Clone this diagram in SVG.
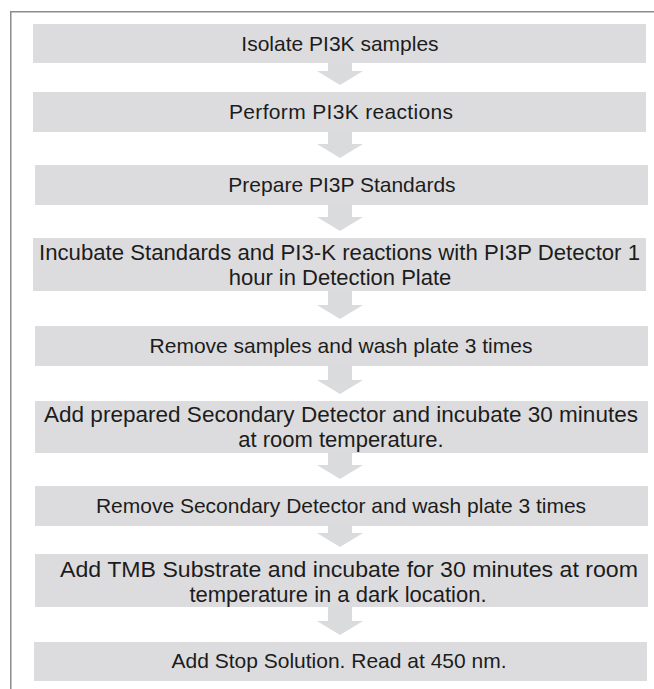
<svg xmlns="http://www.w3.org/2000/svg" width="654" height="689" viewBox="0 0 654 689">
<style>
.box{fill:#dcdcde}
.arr{fill:#dadbdd}
.t{font-family:"Liberation Sans",Arial,sans-serif;font-size:21px;fill:#1c1c1c;text-anchor:middle}
.t2{font-family:"Liberation Sans",Arial,sans-serif;font-size:22px;fill:#1c1c1c}
.frame{fill:none;stroke:#8c8c8c;stroke-width:1.5}
</style>
<rect width="654" height="689" fill="#ffffff"/>
<path class="frame" d="M10.75,689 V11.75 H654"/>
<g id="connectors">
<path class="arr" d="M328,63 H352 V71 H363 L340,85 L317,71 H328 Z"/>
<path class="arr" d="M328,132 H352 V144 H363 L340,158 L317,144 H328 Z"/>
<path class="arr" d="M328,205 H352 V217 H363 L340,231 L317,217 H328 Z"/>
<path class="arr" d="M328,291 H352 V305 H363 L340,319 L317,305 H328 Z"/>
<path class="arr" d="M328,366 H352 V380 H363 L340,394 L317,380 H328 Z"/>
<path class="arr" d="M328,453 H352 V465 H363 L340,479 L317,465 H328 Z"/>
<path class="arr" d="M328,526 H352 V533 H363 L340,547 L317,533 H328 Z"/>
<path class="arr" d="M328,607 H352 V621 H363 L340,635 L317,621 H328 Z"/>
</g>
<g id="n1"><rect class="box" x="33" y="24" width="613" height="39"/><text class="t" x="340" y="50.5">Isolate PI3K samples</text></g>
<g id="n2"><rect class="box" x="33" y="92" width="613" height="40"/><text class="t" x="341" y="118.5" textLength="224">Perform PI3K reactions</text></g>
<g id="n3"><rect class="box" x="35" y="165" width="613" height="40"/><text class="t" x="342" y="191.5">Prepare PI3P Standards</text></g>
<g id="n4"><rect class="box" x="33" y="238" width="613" height="53"/><text class="t2" x="39" y="259.5" textLength="601" lengthAdjust="spacingAndGlyphs">Incubate Standards and PI3-K reactions with PI3P Detector 1</text><text class="t2" x="340" y="284.5" text-anchor="middle">hour in Detection Plate</text></g>
<g id="n5"><rect class="box" x="35" y="326" width="613" height="40"/><text class="t" x="341" y="352.5">Remove samples and wash plate 3 times</text></g>
<g id="n6"><rect class="box" x="35" y="401" width="613" height="52"/><text class="t2" x="44" y="422" textLength="594" lengthAdjust="spacingAndGlyphs">Add prepared Secondary Detector and incubate 30 minutes</text><text class="t2" x="341" y="447" text-anchor="middle">at room temperature.</text></g>
<g id="n7"><rect class="box" x="35" y="486" width="613" height="40"/><text class="t" x="341" y="512.5">Remove Secondary Detector and wash plate 3 times</text></g>
<g id="n8"><rect class="box" x="35" y="554" width="613" height="53"/><text class="t2" x="60" y="577" textLength="578" lengthAdjust="spacingAndGlyphs">Add TMB Substrate and incubate for 30 minutes at room</text><text class="t2" x="338" y="602" text-anchor="middle">temperature in a dark location.</text></g>
<g id="n9"><rect class="box" x="34" y="642" width="613" height="39"/><text class="t" x="339" y="668">Add Stop Solution. Read at 450 nm.</text></g>
</svg>
